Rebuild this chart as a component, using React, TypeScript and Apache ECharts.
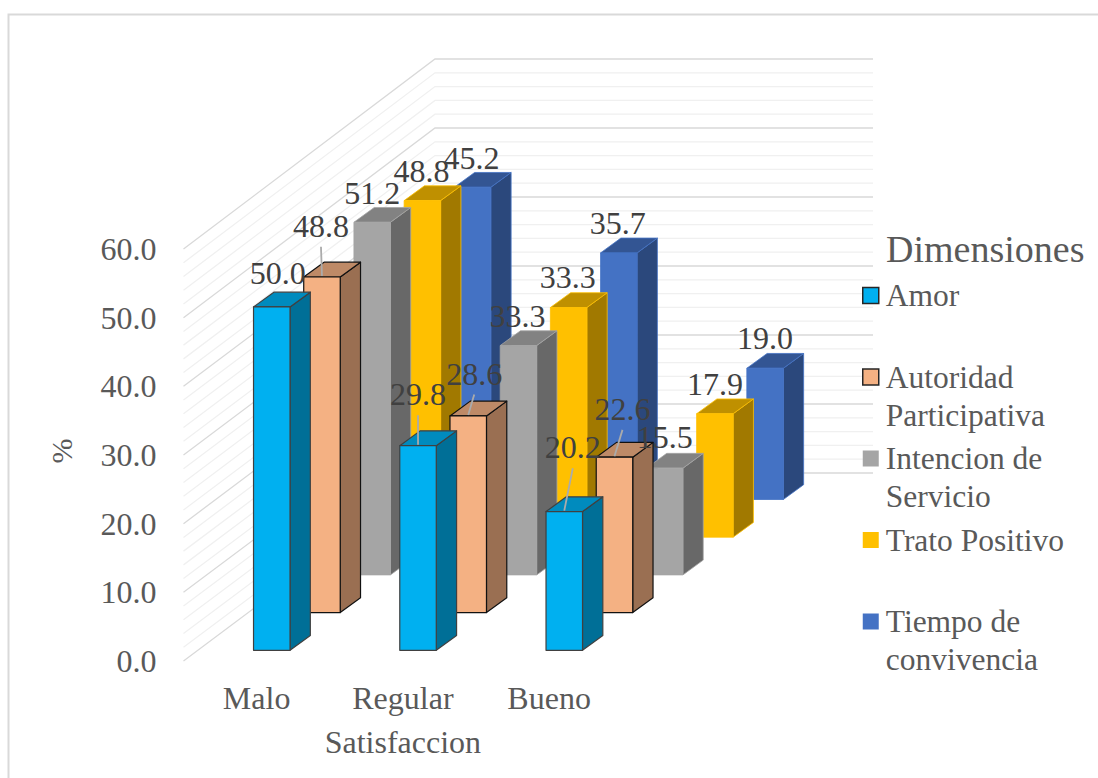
import React, { useEffect, useRef } from "react";
import * as echarts from "echarts";

const categories = ["Malo", "Regular", "Bueno"];
const dimensionNames = ["Amor", "Autoridad Participativa", "Intencion de Servicio", "Trato Positivo", "Tiempo de convivencia"];
const legendLabels = ["\nAmor\n", "\nAutoridad\nParticipativa", "\nIntencion de\nServicio", "\nTrato Positivo\n", "\nTiempo de\nconvivencia"];
const amor = [50.0, 29.8, 20.2];
const autoridad = [48.8, 28.6, 22.6];
const intencion = [51.2, 33.3, 15.5];
const trato = [48.8, 33.3, 17.9];
const tiempo = [45.2, 35.7, 19.0];
const dimensionValues = [amor, autoridad, intencion, trato, tiempo];
const wallLevels = [0, 2, 4, 6, 8, 10, 12, 14, 16, 18, 20, 22, 24, 26, 28, 30, 32, 34, 36, 38, 40, 42, 44, 46, 48, 50, 52, 54, 56, 58, 60];

// front, side, top, stroke
const palette = [
  ["#00B0F0", "#006F97", "#008BBE", "#404040"],
  ["#F4B183", "#9A6F52", "#BE8A67", "#111111"],
  ["#A5A5A5", "#686868", "#828282", "#A5A5A5"],
  ["#FFC000", "#A17900", "#BF9000", "#FFC000"],
  ["#4472C4", "#2B487C", "#335593", "#4472C4"],
];

// label displacement from the default spot above a bar, [dx, dy], by row then category
const labelShifts = [
  [[6, -34], [0, -51], [8.5, -64]],
  [[-1, -51], [6, -42], [8, -48]],
  [[0, -29], [-1, -29], [0, -31]],
  [[-1, -29], [-1, -30], [0, -29]],
  [[-1, -29], [-1, -30], [0, -30]],
];

const FONT = '"Liberation Serif"';
const GRID = { left: 183.5, top: 249, width: 438.75, height: 412 };
const BAR_W = 36.5;
const BAR_OFFSET = -3.1;
const ROW_DX = 50.2;
const ROW_DY = -37.7;
const FRONT_DY = -10.7;
const SIDE_DX = 20.3;
const SIDE_DY = -14.8;
const WALL_DX = 251.5;
const WALL_END = 873;
const AXIS_SIZE = 32;

function barBox(api: any, cat: number, value: number, row: number) {
  const base = api.coord([cat, 0]);
  const top = api.coord([cat, value]);
  const h = (base[1] - top[1]) * (1 + 0.0015 * row);
  const x0 = base[0] + BAR_OFFSET + row * ROW_DX;
  const yb = base[1] + FRONT_DY + row * ROW_DY;
  return { x0, x1: x0 + BAR_W, yb, yt: yb - h };
}

function makeBarSeries(row: number) {
  const colors = palette[row];
  return {
    type: "custom",
    name: dimensionNames[row],
    z: 10 - row,
    silent: true,
    itemStyle: { color: colors[0], borderColor: colors[3] },
    data: dimensionValues[row].map((v, i) => [i, v]),
    renderItem: (_p: any, api: any) => {
      const { x0, x1, yb, yt } = barBox(api, api.value(0), api.value(1), row);
      const poly = (points: number[][], fill: string) => ({
        type: "polygon",
        shape: { points },
        style: { fill, stroke: colors[3], lineWidth: row < 2 ? 1.2 : 0.8, lineJoin: "round" },
      });
      return {
        type: "group",
        children: [
          poly([[x1, yb], [x1 + SIDE_DX, yb + SIDE_DY], [x1 + SIDE_DX, yt + SIDE_DY], [x1, yt]], colors[1]),
          poly([[x0, yt], [x1, yt], [x1 + SIDE_DX, yt + SIDE_DY], [x0 + SIDE_DX, yt + SIDE_DY]], colors[2]),
          poly([[x0, yb], [x1, yb], [x1, yt], [x0, yt]], colors[0]),
        ],
      };
    },
  };
}

const labelData: number[][] = [];
dimensionValues.forEach((vals, row) => vals.forEach((v, cat) => labelData.push([cat, v, row])));

const wallSeries = {
  type: "custom",
  name: "walls",
  z: 1,
  silent: true,
  data: wallLevels.map((l) => [0, l]),
  renderItem: (p: any, api: any) => {
    const level = api.value(1);
    const y = api.coord([0, level])[1];
    const x = p.coordSys.x;
    const major = level % 10 === 0;
    const rise = 188 + (level / 60) * 2;
    return {
      type: "polyline",
      shape: { points: [[x, y], [x + WALL_DX, y - rise], [WALL_END, y - rise]] },
      style: { fill: "none", stroke: major ? "#D9D9D9" : "#F0F0F0", lineWidth: 1.3 },
    };
  },
};

const labelSeries = {
  type: "custom",
  name: "labels",
  z: 20,
  silent: true,
  data: labelData,
  renderItem: (_p: any, api: any) => {
    const cat = api.value(0);
    const val = api.value(1);
    const row = api.value(2);
    const { x0, yt } = barBox(api, cat, val, row);
    const cx = x0 + BAR_W / 2;
    const [dx, dy] = labelShifts[row][cat];
    const lx = cx + dx;
    const ly = yt + dy - 0.3;
    const children: any[] = [];
    if (dy <= -40) {
      children.push({
        type: "line",
        shape: { x1: lx, y1: ly + 21, x2: cx, y2: yt - 1 },
        style: { stroke: "#ABABAB", lineWidth: 1.8 },
      });
    }
    children.push({
      type: "text",
      style: {
        text: val.toFixed(1),
        x: lx,
        y: ly,
        align: "center",
        verticalAlign: "middle",
        font: `${AXIS_SIZE}px ${FONT}`,
        fill: "#404040",
      },
    });
    return { type: "group", children };
  },
};

export default function App() {
  const ref = useRef<HTMLDivElement>(null);
  useEffect(() => {
    const chart = echarts.init(ref.current!, undefined, { renderer: "svg" });
    chart.setOption({
      animation: false,
      backgroundColor: "#FFFFFF",
      grid: { ...GRID, containLabel: false },
      title: {
        text: "Dimensiones",
        left: 881,
        top: 225,
        textStyle: { fontFamily: FONT, fontSize: 38, fontWeight: "normal", color: "#595959" },
      },
      legend: {
        orient: "vertical",
        left: 862,
        top: 238.5,
        padding: 0,
        itemWidth: 16,
        itemHeight: 16,
        itemGap: -32.5,
        selectedMode: false,
        data: dimensionNames.map((name, i) => ({
          name,
          icon: "rect",
          itemStyle: {
            color: palette[i][0],
            borderColor: i < 2 ? "#262626" : palette[i][0],
            borderWidth: i < 2 ? 1.5 : 0,
          },
        })),
        formatter: (name: string) => legendLabels[dimensionNames.indexOf(name)],
        textStyle: {
          fontFamily: FONT,
          fontSize: AXIS_SIZE - 0.5,
          lineHeight: 38,
          color: "#595959",
          padding: [0, 0, 0, 2],
        },
      },
      xAxis: {
        type: "category",
        data: categories,
        axisLine: { show: false },
        axisTick: { show: false },
        axisLabel: { fontFamily: FONT, fontSize: AXIS_SIZE, color: "#595959", margin: 21 },
        name: "Satisfaccion",
        nameLocation: "middle",
        nameGap: 65,
        nameTextStyle: { fontFamily: FONT, fontSize: AXIS_SIZE, color: "#595959" },
      },
      yAxis: {
        type: "value",
        min: 0,
        max: 60,
        interval: 10,
        axisLine: { show: false },
        axisTick: { show: false },
        splitLine: { show: false },
        axisLabel: {
          fontFamily: FONT,
          fontSize: AXIS_SIZE,
          color: "#595959",
          margin: 27,
          formatter: (v: number) => v.toFixed(1),
        },
        name: "%",
        nameLocation: "middle",
        nameGap: 107,
        nameRotate: 90,
        nameTextStyle: { fontFamily: FONT, fontSize: 30, color: "#595959", padding: [0, 0, 0, 8] },
      },
      graphic: [
        {
          type: "polyline",
          silent: true,
          shape: { points: [[8.5, 778], [8.5, 14.5], [1098, 14.5]] },
          style: { fill: "none", stroke: "#D9D9D9", lineWidth: 2 },
        },
      ],
      series: [...dimensionValues.map((_, row) => makeBarSeries(row)), wallSeries, labelSeries],
    });
    return () => chart.dispose();
  }, []);
  return <div ref={ref} style={{ position: "absolute", left: 0, top: 0, width: 1098, height: 778 }} />;
}
